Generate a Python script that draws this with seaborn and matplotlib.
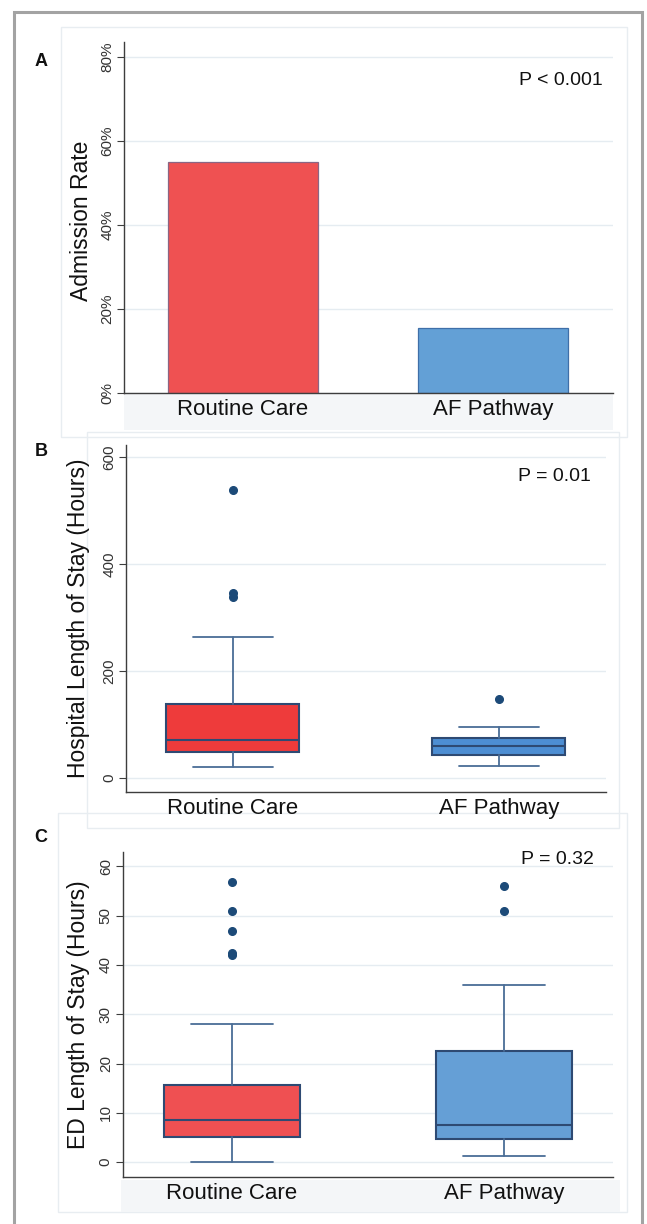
import matplotlib
matplotlib.use("Agg")
import matplotlib.pyplot as plt
import seaborn as sns
from matplotlib.patches import Rectangle
from matplotlib.ticker import PercentFormatter

# datos
groups = ["Routine Care", "AF Pathway"]
admission_rate = [0.55, 0.154]

# estancia hospitalaria (horas): bigote inf, Q1, mediana, Q3, bigote sup
hosp_whislo = [21, 23]
hosp_q1 = [49, 44]
hosp_med = [72, 60]
hosp_q3 = [138, 75]
hosp_whishi = [264, 95]
hosp_fliers = [[339, 345, 538], [148]]

# estancia en urgencias (horas)
ed_whislo = [0.1, 1.2]
ed_q1 = [5.2, 4.7]
ed_med = [8.5, 7.5]
ed_q3 = [15.7, 22.5]
ed_whishi = [28, 36]
ed_fliers = [[42.0, 42.5, 46.9, 50.9, 56.9], [51, 56]]

p_values = ["P < 0.001", "P = 0.01", "P = 0.32"]

sns.set_theme(style="white")
plt.rcParams['font.family'] = ['Liberation Sans', 'DejaVu Sans']

W, H = 647, 1224
fig = plt.figure(figsize=(W / 100, H / 100), dpi=100)


def px_rect(x0, y0, x1, y1):
    return (x0 / W, 1 - y1 / H, (x1 - x0) / W, (y1 - y0) / H)


def style_axes(ax):
    for s in ["top", "right"]:
        ax.spines[s].set_visible(False)
    for s in ["left", "bottom"]:
        ax.spines[s].set_color("#3d3d3d")
        ax.spines[s].set_linewidth(1.0)
    ax.yaxis.grid(True, color="#e5ecf1", linewidth=1.0)
    ax.set_axisbelow(True)
    ax.tick_params(axis="y", left=True, length=5, width=0.8, color="#3d3d3d",
                   labelsize=11, labelcolor="#333333", pad=2)
    ax.tick_params(axis="x", bottom=False, length=0, labelsize=16, pad=4,
                   labelcolor="#111111")
    plt.setp(ax.get_yticklabels(), rotation=90, va="center",
             family=["Liberation Sans Narrow", "Liberation Sans", "DejaVu Sans"])
    ax.set_xlabel("")


def draw_boxes(ax, whislo, q1, med, q3, whishi, fliers, colors):
    stats = []
    for i in range(len(groups)):
        stats.append(dict(whislo=whislo[i], q1=q1[i], med=med[i], q3=q3[i],
                          whishi=whishi[i], fliers=fliers[i], label=groups[i]))
    bp = ax.bxp(stats, positions=[0, 1], widths=0.5, capwidths=0.3,
                patch_artist=True, showfliers=True,
                boxprops=dict(edgecolor="#2e4a73", linewidth=1.5),
                medianprops=dict(color="#2e4a73", linewidth=1.5),
                whiskerprops=dict(color="#4a6d96", linewidth=1.3),
                capprops=dict(color="#4a6d96", linewidth=1.3),
                flierprops=dict(marker="o", markerfacecolor="#1c4a78",
                                markeredgecolor="#1c4a78", markersize=5.5))
    for patch, c in zip(bp["boxes"], colors):
        patch.set_facecolor(c)
    ax.set_xticks([0, 1])
    ax.set_xticklabels(groups)


# marco exterior y recuadros de cada panel
fig.patches.append(Rectangle((14 / W, -0.01), (641.5 - 14) / W, (H - 12) / H + 0.01,
                             transform=fig.transFigure, fill=False,
                             edgecolor="#a3a3a3", linewidth=2.2, zorder=5))
for r in [px_rect(61, 27, 627, 437), px_rect(87, 432, 619, 828), px_rect(58, 813, 627, 1212)]:
    fig.patches.append(Rectangle(r[:2], r[2], r[3], transform=fig.transFigure,
                                 fill=False, edgecolor="#e8edf1", linewidth=1.0, zorder=-2))
for r in [px_rect(124, 393, 613, 430), px_rect(121, 1180, 620, 1212)]:
    fig.patches.append(Rectangle(r[:2], r[2], r[3], transform=fig.transFigure,
                                 facecolor="#f4f6f8", edgecolor="none", zorder=-1))

# Panel A
axA = fig.add_axes(px_rect(124, 42, 613, 393))
sns.barplot(x=groups, y=admission_rate, hue=groups, palette=["#ef5152", "#63a0d6"],
            width=0.6, saturation=1, legend=False, linewidth=0.9, ax=axA)
for bar, ec in zip(axA.patches, ["#8a6684", "#3f6fa8"]):
    bar.set_edgecolor(ec)
axA.set_ylim(0, 0.836)
axA.set_xlim(-0.476, 1.48)
axA.set_yticks([0, 0.2, 0.4, 0.6, 0.8])
axA.yaxis.set_major_formatter(PercentFormatter(1, decimals=0))
style_axes(axA)
axA.set_ylabel("Admission Rate", fontsize=16.5, color="#111111")
axA.yaxis.set_label_coords(-0.063, 0.49)
axA.text(0.9796, 0.8917, p_values[0], transform=axA.transAxes, ha="right",
         va="center", fontsize=14, color="#111111")

# Panel B
axB = fig.add_axes(px_rect(126, 445, 606, 792))
draw_boxes(axB, hosp_whislo, hosp_q1, hosp_med, hosp_q3, hosp_whishi, hosp_fliers,
           ["#ee3b3b", "#4d8ed3"])
axB.set_ylim(-26, 622)
axB.set_xlim(-0.402, 1.403)
axB.set_yticks([0, 200, 400, 600])
style_axes(axB)
axB.set_ylabel("Hospital Length of Stay (Hours)", fontsize=16.5, color="#111111")
axB.yaxis.set_label_coords(-0.075, 0.5)
axB.text(0.969, 0.908, p_values[1], transform=axB.transAxes, ha="right",
         va="center", fontsize=14, color="#111111")

# Panel C
axC = fig.add_axes(px_rect(122.5, 852, 613, 1177))
draw_boxes(axC, ed_whislo, ed_q1, ed_med, ed_q3, ed_whishi, ed_fliers,
           ["#ef5052", "#659fd6"])
axC.set_ylim(-3, 62.9)
axC.set_xlim(-0.4026, 1.4)
axC.set_yticks([0, 10, 20, 30, 40, 50, 60])
style_axes(axC)
axC.set_ylabel("ED Length of Stay (Hours)", fontsize=16.5, color="#111111")
axC.yaxis.set_label_coords(-0.066, 0.5)
axC.text(0.961, 0.978, p_values[2], transform=axC.transAxes, ha="right",
         va="center", fontsize=14, color="#111111")

# letras de panel
for letter, ypx in zip(["A", "B", "C"], [62, 451, 838]):
    fig.text(41 / W, 1 - ypx / H, letter, ha="center", va="center",
             fontsize=13, fontweight="bold", color="#111111")

fig.savefig("out.png", dpi=100)
plt.close()
